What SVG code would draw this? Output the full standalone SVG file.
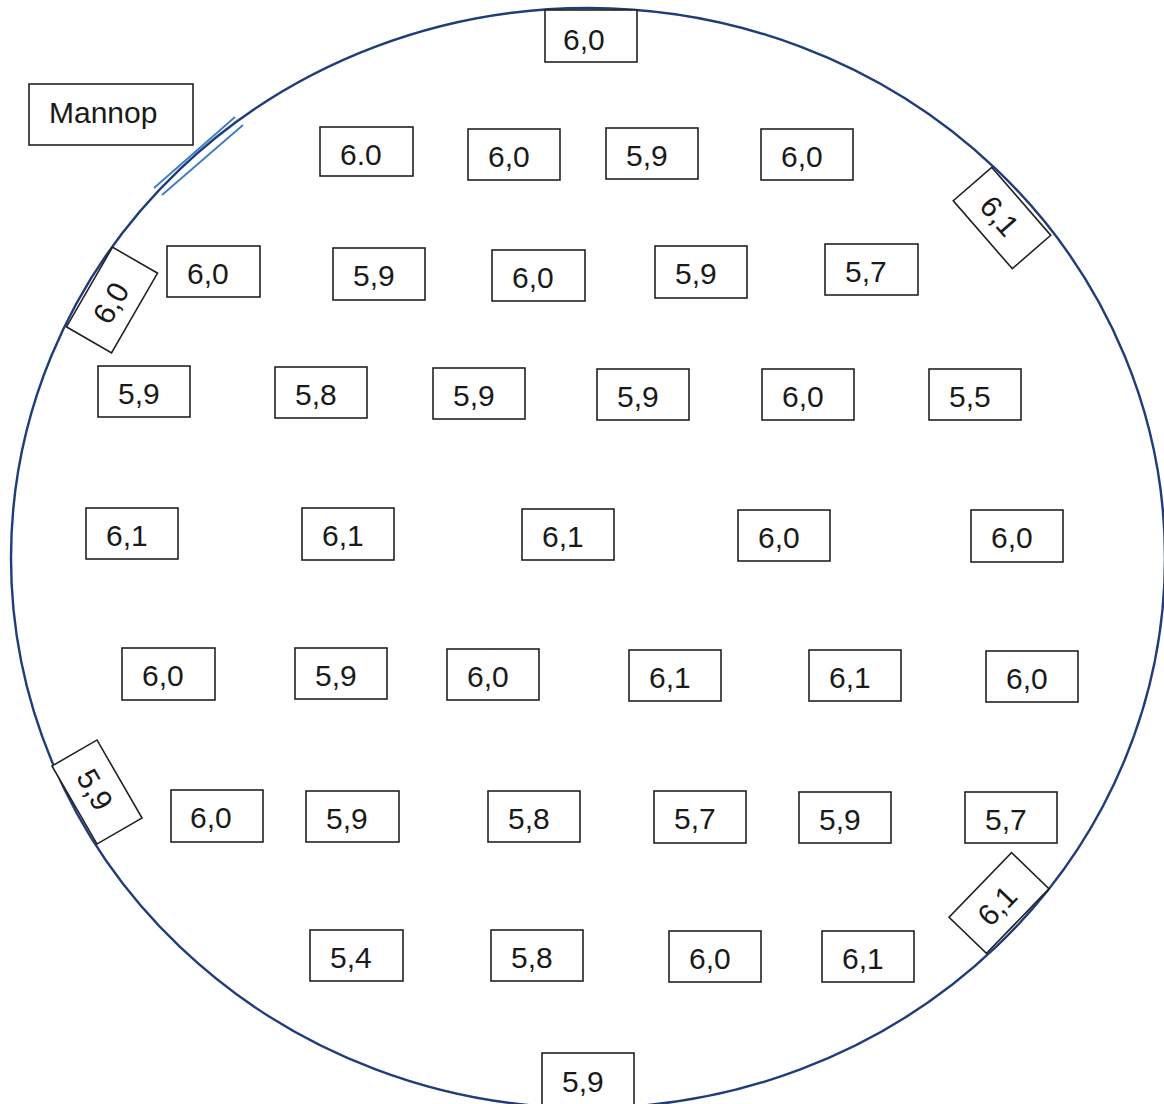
<svg xmlns="http://www.w3.org/2000/svg" width="1164" height="1104" viewBox="0 0 1164 1104">
<style>
.b{fill:#fff;stroke:#222;stroke-width:1.6}
.t{font-family:"Liberation Sans",Arial,sans-serif;font-size:30px;fill:#1a1a1a}
.w{fill:none;stroke:#1f3d7a;stroke-width:2.4}
.m{fill:none;stroke:#3a7cc0;stroke-width:1.8}
</style>
<rect width="1164" height="1104" fill="#fff"/>
<g id="wafer">
<ellipse class="w" cx="588" cy="558" rx="577" ry="550"/>
</g>
<g id="flat-marks">
<line class="m" x1="154" y1="188" x2="235" y2="117"/>
<line class="m" x1="162" y1="195" x2="243" y2="125"/>
</g>
<g id="label-mannop"><rect class="b" x="29" y="84" width="164" height="61"/><text class="t" x="49" y="123">Mannop</text></g>

<g id="n-top" transform="translate(545,10)"><rect class="b" width="92" height="52"/><text class="t" x="18" y="40">6,0</text></g>

<g id="r1c1" transform="translate(320,127)"><rect class="b" width="93" height="49"/><text class="t" x="20" y="38">6.0</text></g>
<g id="r1c2" transform="translate(468,129)"><rect class="b" width="92" height="51"/><text class="t" x="20" y="38">6,0</text></g>
<g id="r1c3" transform="translate(606,128)"><rect class="b" width="92" height="51"/><text class="t" x="20" y="38">5,9</text></g>
<g id="r1c4" transform="translate(761,129)"><rect class="b" width="92" height="51"/><text class="t" x="20" y="38">6,0</text></g>

<g id="r2c1" transform="translate(167,246)"><rect class="b" width="93" height="51"/><text class="t" x="20" y="38">6,0</text></g>
<g id="r2c2" transform="translate(333,248)"><rect class="b" width="92" height="52"/><text class="t" x="20" y="38">5,9</text></g>
<g id="r2c3" transform="translate(492,250)"><rect class="b" width="93" height="51"/><text class="t" x="20" y="38">6,0</text></g>
<g id="r2c4" transform="translate(655,246)"><rect class="b" width="92" height="52"/><text class="t" x="20" y="38">5,9</text></g>
<g id="r2c5" transform="translate(825,244)"><rect class="b" width="93" height="51"/><text class="t" x="20" y="38">5,7</text></g>

<g id="r3c1" transform="translate(98,366)"><rect class="b" width="92" height="51"/><text class="t" x="20" y="38">5,9</text></g>
<g id="r3c2" transform="translate(275,367)"><rect class="b" width="92" height="51"/><text class="t" x="20" y="38">5,8</text></g>
<g id="r3c3" transform="translate(433,368)"><rect class="b" width="92" height="51"/><text class="t" x="20" y="38">5,9</text></g>
<g id="r3c4" transform="translate(597,369)"><rect class="b" width="92" height="51"/><text class="t" x="20" y="38">5,9</text></g>
<g id="r3c5" transform="translate(762,369)"><rect class="b" width="92" height="51"/><text class="t" x="20" y="38">6,0</text></g>
<g id="r3c6" transform="translate(929,369)"><rect class="b" width="92" height="51"/><text class="t" x="20" y="38">5,5</text></g>

<g id="r4c1" transform="translate(86,508)"><rect class="b" width="92" height="51"/><text class="t" x="20" y="38">6,1</text></g>
<g id="r4c2" transform="translate(302,508)"><rect class="b" width="92" height="52"/><text class="t" x="20" y="38">6,1</text></g>
<g id="r4c3" transform="translate(522,509)"><rect class="b" width="92" height="51"/><text class="t" x="20" y="38">6,1</text></g>
<g id="r4c4" transform="translate(738,510)"><rect class="b" width="92" height="51"/><text class="t" x="20" y="38">6,0</text></g>
<g id="r4c5" transform="translate(971,510)"><rect class="b" width="92" height="52"/><text class="t" x="20" y="38">6,0</text></g>

<g id="r5c1" transform="translate(122,648)"><rect class="b" width="93" height="52"/><text class="t" x="20" y="38">6,0</text></g>
<g id="r5c2" transform="translate(295,648)"><rect class="b" width="92" height="51"/><text class="t" x="20" y="38">5,9</text></g>
<g id="r5c3" transform="translate(447,649)"><rect class="b" width="92" height="51"/><text class="t" x="20" y="38">6,0</text></g>
<g id="r5c4" transform="translate(629,650)"><rect class="b" width="92" height="51"/><text class="t" x="20" y="38">6,1</text></g>
<g id="r5c5" transform="translate(809,650)"><rect class="b" width="92" height="51"/><text class="t" x="20" y="38">6,1</text></g>
<g id="r5c6" transform="translate(986,651)"><rect class="b" width="92" height="51"/><text class="t" x="20" y="38">6,0</text></g>

<g id="r6c1" transform="translate(171,790)"><rect class="b" width="92" height="52"/><text class="t" x="19" y="38">6,0</text></g>
<g id="r6c2" transform="translate(306,791)"><rect class="b" width="93" height="51"/><text class="t" x="20" y="38">5,9</text></g>
<g id="r6c3" transform="translate(488,791)"><rect class="b" width="92" height="51"/><text class="t" x="20" y="38">5,8</text></g>
<g id="r6c4" transform="translate(654,791)"><rect class="b" width="92" height="52"/><text class="t" x="20" y="38">5,7</text></g>
<g id="r6c5" transform="translate(799,792)"><rect class="b" width="92" height="51"/><text class="t" x="20" y="38">5,9</text></g>
<g id="r6c6" transform="translate(965,792)"><rect class="b" width="92" height="51"/><text class="t" x="20" y="38">5,7</text></g>

<g id="r7c1" transform="translate(310,930)"><rect class="b" width="93" height="51"/><text class="t" x="20" y="38">5,4</text></g>
<g id="r7c2" transform="translate(491,930)"><rect class="b" width="92" height="51"/><text class="t" x="20" y="38">5,8</text></g>
<g id="r7c3" transform="translate(669,931)"><rect class="b" width="92" height="51"/><text class="t" x="20" y="38">6,0</text></g>
<g id="r7c4" transform="translate(822,931)"><rect class="b" width="92" height="51"/><text class="t" x="20" y="38">6,1</text></g>

<g id="n-bottom" transform="translate(542,1053)"><rect class="b" width="92" height="60"/><text class="t" x="20" y="39">5,9</text></g>

<g id="edge-left-top" transform="translate(112,300) rotate(-60)"><rect class="b" x="-46" y="-26" width="92" height="52"/><text class="t" x="-24" y="11">6,0</text></g>
<g id="edge-right-top" transform="translate(1002,218) rotate(49)"><rect class="b" x="-45" y="-25.5" width="90" height="51"/><text class="t" x="-24" y="11">6,1</text></g>
<g id="edge-left-bottom" transform="translate(97,792) rotate(60)"><rect class="b" x="-45" y="-26" width="90" height="52"/><text class="t" x="-24" y="11">5,9</text></g>
<g id="edge-right-bottom" transform="translate(999,903) rotate(-46)"><rect class="b" x="-45" y="-26" width="90" height="52"/><text class="t" x="-24" y="11">6,1</text></g>
</svg>
